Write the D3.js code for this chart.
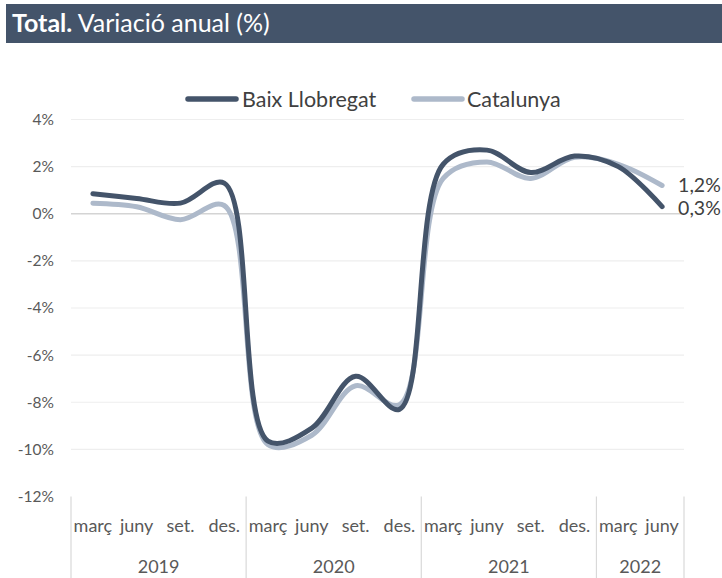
<!DOCTYPE html>
<html><head><meta charset="utf-8">
<script src="https://cdn.jsdelivr.net/npm/d3@7"></script>
<style>body{margin:0;background:#fff}svg{display:block}</style>
</head><body>
<script>
const years = ["2019","2020","2021","2022"];
const categories = ["2019-1","2019-2","2019-3","2019-4","2020-1","2020-2","2020-3","2020-4","2021-1","2021-2","2021-3","2021-4","2022-1","2022-2"];
const quarterLabels = ["març","juny","set.","des.","març","juny","set.","des.","març","juny","set.","des.","març","juny"];
const baix = [0.85,0.65,0.45,1.3,-9.65,-9.1,-6.9,-8.3,2.1,2.7,1.75,2.45,2.0,0.3];
const catalunya = [0.45,0.3,-0.25,0.35,-9.8,-9.4,-7.3,-8.1,1.5,2.2,1.5,2.4,2.1,1.2];
const yTicks = [4,2,0,-2,-4,-6,-8,-10,-12];
const seriesNames = ["Baix Llobregat","Catalunya"];
const colors = ["#44546a","#adb9ca"];

(function(){
const W=722,H=578;
const svg=d3.select("body").append("svg").attr("width",W).attr("height",H);
const font="Lato, 'Open Sans', sans-serif";

// title bar
svg.append("rect").attr("x",6).attr("y",4).attr("width",716).attr("height",39).attr("fill","#44546a");
const t=svg.append("text").attr("x",12).attr("y",31.5).attr("fill","#fff").attr("font-family",font).attr("font-size",25);
t.append("tspan").attr("font-weight","bold").text("Total.");
t.append("tspan").text(" Variació anual (%)");

const pl=71,pr=684,pt=119.5,pb=496.5;
const x=d3.scaleBand().domain(categories).range([pl,pr]);
const y=d3.scaleLinear().domain([-12,4]).range([pb,pt]);

// gridlines
svg.append("g").selectAll("line").data(yTicks.filter(d=>d!==-12)).join("line")
  .attr("x1",pl).attr("x2",pr).attr("y1",d=>y(d)).attr("y2",d=>y(d))
  .attr("stroke",d=>d===0?"#d4d4d4":"#eeeeee").attr("stroke-width",d=>d===0?1.5:1.2);

// y labels
const yAxis=d3.axisLeft(y).tickValues(yTicks).tickSize(0).tickPadding(0).tickFormat(d=>d+"%");
const ya=svg.append("g").attr("transform",`translate(${54},0)`).call(yAxis);
ya.select(".domain").remove();
ya.selectAll("text").attr("font-family",font).attr("font-size",15.5).attr("fill","#595959");

// category separators
const seps=[0,4,8,12,14].map(i=>i<14?x(categories[i]):pr);
svg.append("g").selectAll("line").data(seps).join("line")
  .attr("x1",d=>d).attr("x2",d=>d).attr("y1",pb).attr("y2",H)
  .attr("stroke","#d9d9d9").attr("stroke-width",1.2);

svg.append("g").selectAll("text").data(categories).join("text")
  .attr("x",d=>x(d)+x.bandwidth()/2).attr("y",532).attr("text-anchor","middle")
  .attr("font-family",font).attr("font-size",18).attr("fill","#595959")
  .text((d,i)=>quarterLabels[i]);

const yearCenters=years.map(yr=>{
  const cs=categories.filter(c=>c.startsWith(yr));
  return (x(cs[0])+x(cs[cs.length-1])+x.bandwidth())/2;
});
svg.append("g").selectAll("text").data(years).join("text")
  .attr("x",(d,i)=>yearCenters[i]).attr("y",573).attr("text-anchor","middle")
  .attr("font-family",font).attr("font-size",18).attr("fill","#595959").text(d=>d);

// lines
const line=d3.line().x((d,i)=>x(categories[i])+x.bandwidth()/2).y(d=>y(d)).curve(d3.curveCatmullRom.alpha(0.5));
[[catalunya,colors[1]],[baix,colors[0]]].forEach(([s,c])=>{
  svg.append("path").attr("d",line(s)).attr("fill","none")
    .attr("stroke",c).attr("stroke-width",5).attr("stroke-linecap","round").attr("stroke-linejoin","round");
});

// end labels
const fmt=v=>d3.format(".1f")(v).replace(".",",")+"%";
const lx=x(categories[13])+x.bandwidth()/2+16;
svg.append("text").attr("x",lx).attr("y",y(catalunya[13])+7).attr("font-family",font).attr("font-size",19.5).attr("fill","#404040").text(fmt(catalunya[13]));
svg.append("text").attr("x",lx).attr("y",y(baix[13])+8).attr("font-family",font).attr("font-size",19.5).attr("fill","#404040").text(fmt(baix[13]));

// legend
const leg=[{x:185,tx:242},{x:411,tx:467}];
seriesNames.forEach((n,i)=>{
  svg.append("line").attr("x1",leg[i].x+3).attr("x2",leg[i].x+51).attr("y1",99).attr("y2",99)
    .attr("stroke",colors[i]).attr("stroke-width",5.5).attr("stroke-linecap","round");
  svg.append("text").attr("x",leg[i].tx).attr("y",106.5).attr("font-family",font).attr("font-size",21.5).attr("fill","#404040").text(n);
});
})();
</script>
</body></html>
